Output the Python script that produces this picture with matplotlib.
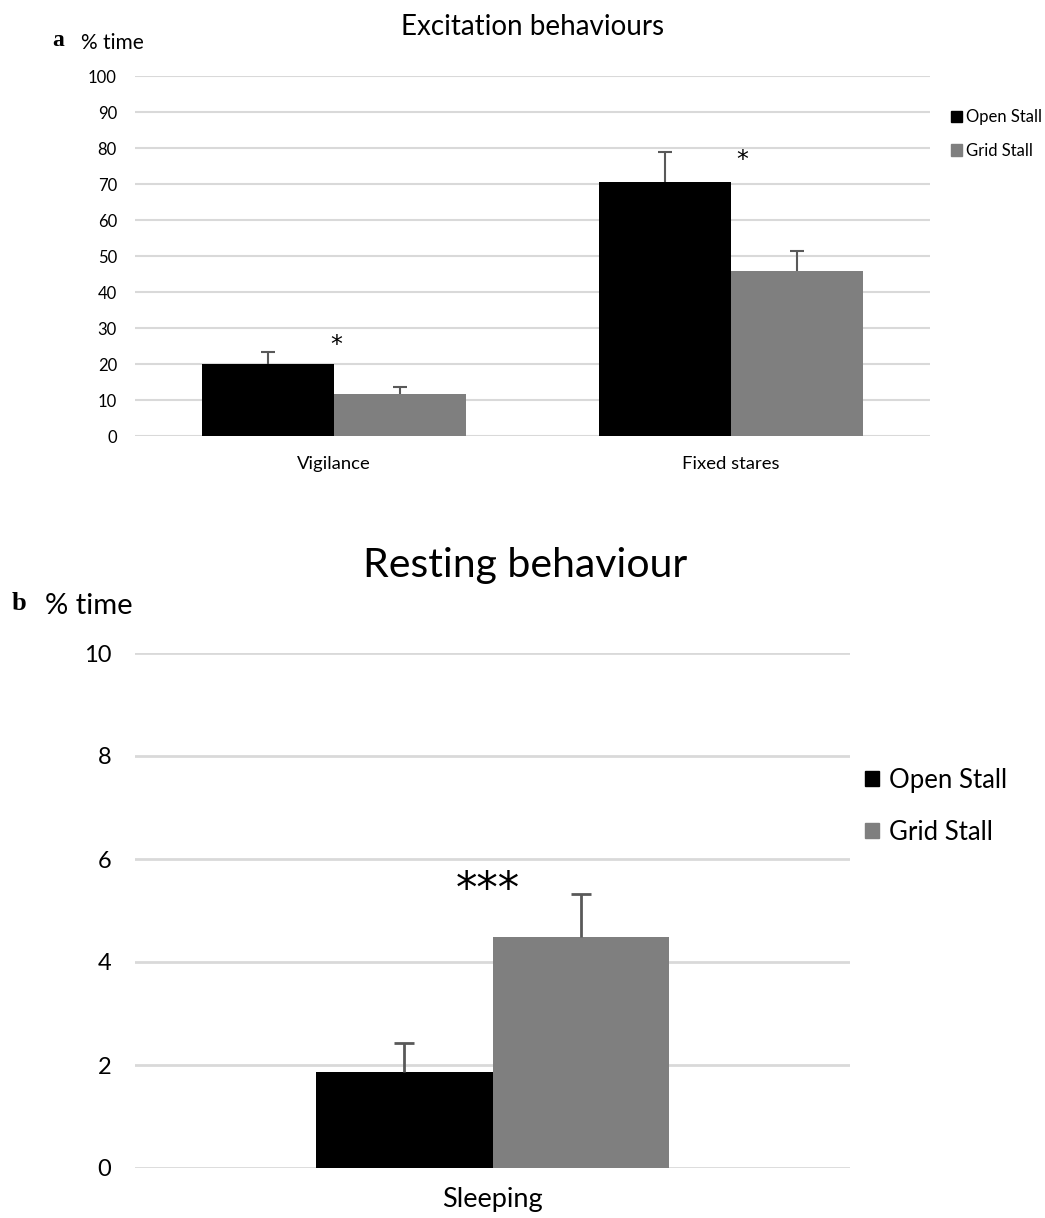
import matplotlib
matplotlib.use("Agg")
import matplotlib.pyplot as plt
from matplotlib.patches import Patch
import numpy as np

plt.rcParams['font.family'] = ['Lato', 'DejaVu Sans']

# Panel a data
cats_a = ["Vigilance", "Fixed stares"]
open_a = [20.1, 70.7]
open_a_err = [3.2, 8.3]
grid_a = [11.7, 45.8]
grid_a_err = [2.0, 5.7]

# Panel b data
cats_b = ["Sleeping"]
open_b = [1.87]
open_b_err = [0.55]
grid_b = [4.48]
grid_b_err = [0.84]

series_names = ["Open Stall", "Grid Stall"]
c_open = "#000000"
c_grid = "#7f7f7f"
err_c = "#595959"
grid_c = "#d9d9d9"

W, H = 1045, 1218
fig = plt.figure(figsize=(W/100, H/100), dpi=100)

def fx(x): return x / W
def fy(y): return 1 - y / H

def upper_err(ax, x, y, e, lw, cs):
    _, caps, _ = ax.errorbar(x, y, yerr=[np.zeros(len(e)), e], fmt='none',
                             ecolor=err_c, elinewidth=lw, capsize=cs, capthick=lw, zorder=4)
    caps[0].set_visible(False)

# ---------- Panel a ----------
axa = fig.add_axes([fx(135), fy(436.3), fx(930) - fx(135), fy(76.3) - fy(436.3)])
xa = np.arange(len(cats_a))
wa = 0.332
axa.bar(xa - wa/2, open_a, wa, color=c_open, zorder=3)
axa.bar(xa + wa/2, grid_a, wa, color=c_grid, zorder=3)
upper_err(axa, xa - wa/2, open_a, open_a_err, 1.5, 5)
upper_err(axa, xa + wa/2, grid_a, grid_a_err, 1.5, 5)
axa.set_xlim(-0.5, 1.5)
axa.set_ylim(0, 100)
axa.set_yticks(np.arange(0, 101, 10))
axa.set_xticks(xa)
axa.set_xticklabels(cats_a, fontsize=13.3)
axa.tick_params(axis='y', labelsize=12, length=0, pad=13)
axa.tick_params(axis='x', length=0, pad=14)
axa.grid(axis='y', color=grid_c, linewidth=1.5, zorder=0)
for s in axa.spines.values():
    s.set_visible(False)
axa.text(0.005, 25.4, "*", ha='center', va='center', fontsize=17, fontfamily='DejaVu Sans')
axa.text(1.027, 76.8, "*", ha='center', va='center', fontsize=17, fontfamily='DejaVu Sans')

fig.text(fx(533), fy(27), "Excitation behaviours", ha='center', va='center', fontsize=20)
fig.text(fx(52), fy(40), "a", ha='left', va='center', fontsize=17, fontweight='bold',
         fontfamily='Liberation Serif')
fig.text(fx(81), fy(43), "% time", ha='left', va='center', fontsize=15)

handles = [Patch(color=c_open), Patch(color=c_grid)]
fig.legend(handles, series_names, loc='upper left', bbox_to_anchor=(fx(943), fy(101)),
           frameon=False, fontsize=12, handlelength=0.65, handleheight=0.65,
           handletextpad=0.25, labelspacing=1.05, borderpad=0)

# ---------- Panel b ----------
axb = fig.add_axes([fx(135), fy(1168), fx(850) - fx(135), fy(653) - fy(1168)])
xb = np.arange(len(cats_b))
wb = 0.247
axb.bar(xb - wb/2, open_b, wb, color=c_open, zorder=3)
axb.bar(xb + wb/2, grid_b, wb, color=c_grid, zorder=3)
upper_err(axb, xb - wb/2, open_b, open_b_err, 2, 7)
upper_err(axb, xb + wb/2, grid_b, grid_b_err, 2, 7)
axb.set_xlim(-0.5, 0.5)
axb.set_ylim(0, 10)
axb.set_yticks(np.arange(0, 11, 2))
axb.set_xticks(xb)
axb.set_xticklabels(cats_b, fontsize=19.5)
axb.tick_params(axis='y', labelsize=17, length=0, pad=17)
axb.tick_params(axis='x', length=0, pad=14)
axb.grid(axis='y', color=grid_c, linewidth=2, zorder=0)
for s in axb.spines.values():
    s.set_visible(False)
axb.text(-0.006, 5.4, "***", ha='center', va='center', fontsize=31, fontfamily='DejaVu Sans')

fig.text(fx(525), fy(566), "Resting behaviour", ha='center', va='center', fontsize=29.5)
fig.text(fx(12), fy(603), "b", ha='left', va='center', fontsize=19, fontweight='bold',
         fontfamily='Liberation Serif')
fig.text(fx(45), fy(606), "% time", ha='left', va='center', fontsize=21)

fig.legend(handles, series_names, loc='upper left', bbox_to_anchor=(fx(852), fy(755)),
           frameon=False, fontsize=18.5, handlelength=0.55, handleheight=0.55,
           handletextpad=0.4, labelspacing=1.05, borderpad=0)

fig.savefig("out.png", dpi=100)
